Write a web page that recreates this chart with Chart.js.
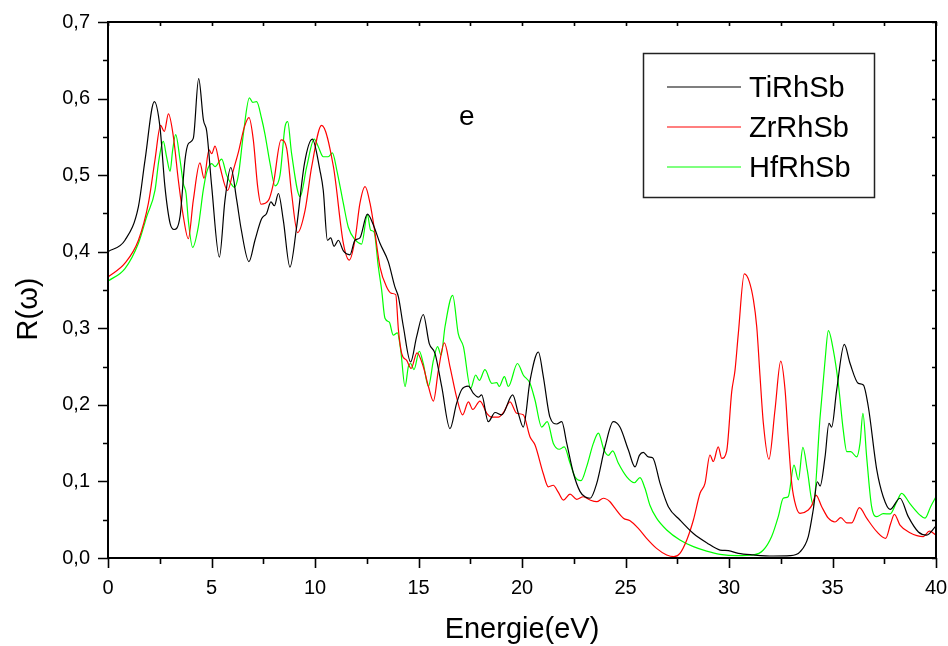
<!DOCTYPE html>
<html>
<head>
<meta charset="utf-8">
<title>R(ω) - TiRhSb / ZrRhSb / HfRhSb</title>
<script src="https://cdn.jsdelivr.net/npm/chart.js@4.4.1/dist/chart.umd.min.js"></script>
<style>
    html, body { margin: 0; padding: 0; background: #fff; }
    canvas { display: block; }
</style>
</head>
<body>
<canvas id="reflectivityChart" width="948" height="646"></canvas>
<script>
// Tick labels
const xTickValues = [0, 5, 10, 15, 20, 25, 30, 35, 40];
const yTickValues = [0, 0.1, 0.2, 0.3, 0.4, 0.5, 0.6, 0.7];

// Series names
const seriesNames = ['TiRhSb', 'ZrRhSb', 'HfRhSb'];

// TiRhSb
const energyTi = [0, 0.82, 1.47, 1.79, 2.24, 2.51, 2.75, 3.0, 3.19, 3.48, 3.72, 3.88, 4.12, 4.38, 4.61, 4.77, 5.01, 5.38, 5.65, 5.93,
    6.22, 6.43, 6.81, 7.1, 7.42, 7.66, 7.87, 8.04, 8.23, 8.47, 8.79, 9.11, 9.49, 9.87, 10.24, 10.4, 10.6, 10.76, 10.92, 11.13,
    11.37, 11.69, 11.93, 12.17, 12.53, 12.82, 13.14, 13.54, 13.86, 14.03, 14.27, 14.62, 14.91, 15.23, 15.52, 15.8, 16.12, 16.52, 16.84, 17.09,
    17.41, 17.65, 17.89, 18.05, 18.37, 18.7, 19.02, 19.55, 19.82, 20.06, 20.39, 20.79, 21.03, 21.35, 21.68, 21.92, 22.16, 22.48, 22.8, 23.04,
    23.29, 23.61, 24.01, 24.41, 24.73, 25.14, 25.46, 25.67, 25.86, 26.1, 26.31, 26.67, 27.07, 27.63, 28.28, 28.92, 29.57, 29.97, 30.45, 31.18,
    32.14, 32.95, 33.43, 33.83, 34.07, 34.27, 34.4, 34.64, 34.83, 34.96, 35.2, 35.57, 35.85, 36.25, 36.49, 36.73, 37.14, 37.45, 37.78, 38.26,
    38.66, 39.15, 39.55, 40];
const reflTi = [0.400, 0.415, 0.459, 0.520, 0.596, 0.563, 0.485, 0.437, 0.429, 0.446, 0.520, 0.541, 0.548, 0.626, 0.572, 0.557, 0.485, 0.393, 0.467, 0.510,
    0.467, 0.430, 0.387, 0.415, 0.443, 0.450, 0.465, 0.460, 0.476, 0.441, 0.380, 0.432, 0.515, 0.547, 0.506, 0.480, 0.415, 0.418, 0.407, 0.415,
    0.401, 0.396, 0.415, 0.418, 0.449, 0.435, 0.411, 0.387, 0.354, 0.341, 0.302, 0.256, 0.289, 0.318, 0.280, 0.267, 0.224, 0.169, 0.202, 0.220,
    0.2245, 0.215, 0.210, 0.213, 0.178, 0.190, 0.187, 0.213, 0.189, 0.171, 0.232, 0.269, 0.237, 0.184, 0.175, 0.178, 0.150, 0.111, 0.087, 0.080,
    0.078, 0.0975, 0.145, 0.178, 0.171, 0.141, 0.119, 0.134, 0.138, 0.132, 0.131, 0.0975, 0.067, 0.0496, 0.032, 0.020, 0.0104, 0.0096, 0.006, 0.004,
    0.0026, 0.003, 0.008, 0.028, 0.063, 0.0996, 0.094, 0.132, 0.176, 0.171, 0.219, 0.279, 0.254, 0.228, 0.226, 0.1975, 0.115, 0.080, 0.0635, 0.078,
    0.054, 0.034, 0.030, 0.042];

// ZrRhSb
const energyZr = [0, 0.82, 1.47, 1.95, 2.27, 2.54, 2.72, 2.92, 3.16, 3.4, 3.64, 3.88, 4.12, 4.44, 4.64, 4.88, 5.01, 5.17, 5.41, 5.78,
    6.05, 6.3, 6.59, 6.81, 7.02, 7.23, 7.39, 7.75, 7.99, 8.36, 8.63, 8.87, 9.16, 9.52, 9.84, 10.32, 10.89, 11.37, 11.66, 11.93,
    12.17, 12.42, 12.66, 12.9, 13.14, 13.46, 13.71, 13.9, 14.03, 14.19, 14.43, 14.64, 14.93, 15.23, 15.48, 15.72, 15.96, 16.25, 16.52, 16.84,
    17.13, 17.41, 17.62, 17.97, 18.3, 18.54, 18.86, 19.1, 19.42, 19.74, 20.06, 20.39, 20.63, 21.03, 21.27, 21.51, 21.75, 22.0, 22.32, 22.64,
    22.96, 23.29, 23.61, 23.93, 24.25, 24.49, 24.9, 25.22, 25.62, 26.02, 26.5, 26.99, 27.34, 27.63, 27.96, 28.28, 28.6, 28.84, 29.08, 29.24,
    29.48, 29.65, 29.89, 30.13, 30.29, 30.45, 30.74, 30.98, 31.18, 31.34, 31.5, 31.66, 31.93, 32.22, 32.5, 32.71, 32.86, 33.03, 33.24, 33.43,
    33.83, 34.0, 34.2, 34.48, 34.8, 35.12, 35.4, 35.69, 35.93, 36.3, 36.65, 37.14, 37.57, 37.81, 37.99, 38.26, 38.74, 39.39, 39.68, 40];
const reflZr = [0.367, 0.385, 0.415, 0.463, 0.520, 0.565, 0.557, 0.580, 0.550, 0.493, 0.446, 0.417, 0.467, 0.516, 0.496, 0.533, 0.528, 0.538, 0.511, 0.480,
    0.506, 0.530, 0.563, 0.575, 0.546, 0.485, 0.462, 0.467, 0.489, 0.546, 0.535, 0.476, 0.425, 0.454, 0.511, 0.565, 0.511, 0.411, 0.389, 0.415,
    0.463, 0.485, 0.463, 0.424, 0.380, 0.354, 0.3455, 0.344, 0.298, 0.267, 0.258, 0.2475, 0.268, 0.250, 0.224, 0.205, 0.245, 0.281, 0.250, 0.210,
    0.187, 0.204, 0.194, 0.205, 0.189, 0.184, 0.184, 0.190, 0.204, 0.189, 0.187, 0.158, 0.1475, 0.110, 0.093, 0.095, 0.086, 0.0757, 0.0835, 0.0766,
    0.080, 0.0757, 0.0735, 0.078, 0.0735, 0.065, 0.052, 0.0487, 0.0387, 0.0257, 0.0126, 0.004, 0.0017, 0.006, 0.0235, 0.0496, 0.0845, 0.0975, 0.1345, 0.126,
    0.145, 0.130, 0.140, 0.217, 0.245, 0.293, 0.371, 0.361, 0.337, 0.302, 0.237, 0.176, 0.129, 0.193, 0.257, 0.219, 0.158, 0.0975, 0.067, 0.0583,
    0.0627, 0.0687, 0.0822, 0.067, 0.052, 0.047, 0.0526, 0.046, 0.046, 0.0657, 0.052, 0.0344, 0.0257, 0.045, 0.057, 0.043, 0.033, 0.028, 0.035, 0.030];

// HfRhSb
const energyHf = [0, 0.82, 1.47, 1.87, 2.27, 2.46, 2.67, 2.83, 3.0, 3.12, 3.27, 3.48, 3.64, 3.77, 3.88, 4.09, 4.36, 4.6, 4.77, 5.01,
    5.17, 5.49, 5.73, 5.94, 6.1, 6.3, 6.54, 6.83, 6.99, 7.18, 7.42, 7.58, 7.83, 8.07, 8.31, 8.55, 8.68, 8.87, 9.28, 9.6,
    9.96, 10.16, 10.4, 10.64, 10.84, 11.05, 11.37, 11.61, 11.93, 12.25, 12.53, 12.69, 12.85, 13.06, 13.22, 13.38, 13.59, 13.78, 13.98, 14.14,
    14.35, 14.51, 14.62, 14.78, 15.04, 15.23, 15.48, 15.72, 15.92, 16.09, 16.28, 16.65, 16.92, 17.17, 17.52, 17.76, 17.94, 18.21, 18.54, 18.78,
    18.9, 19.15, 19.34, 19.78, 20.06, 20.39, 20.63, 20.95, 21.22, 21.51, 21.8, 22.04, 22.32, 22.56, 22.85, 23.12, 23.45, 23.69, 23.96, 24.17,
    24.38, 24.65, 25.06, 25.43, 25.7, 25.94, 26.18, 26.5, 26.99, 27.63, 28.28, 28.92, 29.57, 30.37, 31.18, 31.66, 32.06, 32.38, 32.62, 32.86,
    33.14, 33.35, 33.57, 33.78, 34.07, 34.4, 34.64, 34.8, 35.04, 35.28, 35.52, 35.69, 35.88, 36.17, 36.33, 36.47, 36.65, 36.89, 37.14, 37.45,
    37.78, 38.07, 38.34, 38.74, 39.23, 39.47, 39.74, 40];
const reflHf = [0.3616, 0.378, 0.411, 0.446, 0.480, 0.520, 0.544, 0.524, 0.505, 0.532, 0.553, 0.520, 0.489, 0.476, 0.441, 0.4056, 0.432, 0.480, 0.504, 0.515,
    0.511, 0.521, 0.500, 0.489, 0.484, 0.500, 0.554, 0.601, 0.595, 0.596, 0.574, 0.554, 0.515, 0.486, 0.500, 0.563, 0.570, 0.528, 0.472, 0.511,
    0.547, 0.537, 0.524, 0.524, 0.529, 0.507, 0.463, 0.432, 0.416, 0.410, 0.448, 0.428, 0.426, 0.380, 0.350, 0.313, 0.308, 0.291, 0.294, 0.2715,
    0.224, 0.250, 0.254, 0.246, 0.270, 0.254, 0.224, 0.258, 0.276, 0.265, 0.302, 0.343, 0.293, 0.276, 0.2215, 0.239, 0.232, 0.246, 0.228, 0.229,
    0.224, 0.237, 0.224, 0.254, 0.239, 0.228, 0.206, 0.171, 0.178, 0.150, 0.142, 0.145, 0.124, 0.106, 0.101, 0.119, 0.150, 0.163, 0.141, 0.134,
    0.140, 0.124, 0.106, 0.0983, 0.105, 0.091, 0.069, 0.052, 0.0366, 0.0235, 0.0148, 0.009, 0.0048, 0.003, 0.004, 0.0104, 0.028, 0.054, 0.078, 0.080,
    0.1214, 0.102, 0.1445, 0.115, 0.069, 0.184, 0.258, 0.297, 0.2715, 0.228, 0.167, 0.139, 0.139, 0.132, 0.150, 0.189, 0.132, 0.067, 0.054, 0.058,
    0.0575, 0.0714, 0.0845, 0.071, 0.056, 0.052, 0.067, 0.080];

const FONT = '"Liberation Sans", Arial, Helvetica, sans-serif';

function toPoints(xs, ys) {
    return xs.map((x, i) => ({ x: x, y: ys[i] }));
}

function makeDataset(label, xs, ys, color) {
    return {
        label: label,
        data: toPoints(xs, ys),
        borderColor: color,
        backgroundColor: color,
        borderWidth: 1.2,
        pointRadius: 0,
        showLine: true,
        fill: false,
        cubicInterpolationMode: 'monotone'
    };
}

/**
 * Frame box with Origin style ticks, axis titles, legend and panel letter
 */
const originStyle = {
    id: 'originStyle',
    afterDraw(chart) {
        const { ctx, chartArea: a, scales: { x, y } } = chart;
        ctx.save();

        // frame
        ctx.strokeStyle = '#000';
        ctx.lineWidth = 2;
        ctx.strokeRect(a.left, a.top, a.right - a.left, a.bottom - a.top);

        // x ticks (major + minor halfway)
        ctx.lineWidth = 1.6;
        ctx.beginPath();
        xTickValues.forEach((v, i) => {
            const px = Math.round(x.getPixelForValue(v)) + 0.5;
            ctx.moveTo(px, a.bottom); ctx.lineTo(px, a.bottom + 10);
            ctx.moveTo(px, a.top); ctx.lineTo(px, a.top + 4);
            if (i < xTickValues.length - 1) {
                const mid = (v + xTickValues[i + 1]) / 2;
                const pm = Math.round(x.getPixelForValue(mid)) + 0.5;
                ctx.moveTo(pm, a.bottom); ctx.lineTo(pm, a.bottom + 6);
                ctx.moveTo(pm, a.top); ctx.lineTo(pm, a.top + 4);
            }
        });
        // y ticks
        yTickValues.forEach((v, i) => {
            const py = Math.round(y.getPixelForValue(v)) + 0.5;
            ctx.moveTo(a.left, py); ctx.lineTo(a.left - 10, py);
            ctx.moveTo(a.right, py); ctx.lineTo(a.right - 4, py);
            if (i < yTickValues.length - 1) {
                const mid = (v + yTickValues[i + 1]) / 2;
                const pm = Math.round(y.getPixelForValue(mid)) + 0.5;
                ctx.moveTo(a.left, pm); ctx.lineTo(a.left - 5, pm);
                ctx.moveTo(a.right, pm); ctx.lineTo(a.right - 4, pm);
            }
        });
        ctx.stroke();

        // axis titles
        ctx.fillStyle = '#000';
        ctx.font = '29px ' + FONT;
        ctx.textAlign = 'center';
        ctx.textBaseline = 'alphabetic';
        ctx.fillText('Energie(eV)', (a.left + a.right) / 2, 638);

        ctx.save();
        ctx.translate(37, 309);
        ctx.rotate(-Math.PI / 2);
        ctx.fillText('R(ω)', 0, 0);
        ctx.restore();

        // panel letter
        ctx.textAlign = 'left';
        ctx.font = '28px ' + FONT;
        ctx.fillText('e', 459, 125);

        // legend
        const colors = chart.data.datasets.map(d => d.borderColor);
        ctx.lineWidth = 1.5;
        ctx.strokeStyle = '#222';
        ctx.strokeRect(643.5, 53.5, 231, 144);
        ctx.font = '29px ' + FONT;
        seriesNames.forEach((name, i) => {
            const base = 97 + i * 40;
            ctx.strokeStyle = colors[i];
            ctx.lineWidth = 1.2;
            ctx.beginPath();
            ctx.moveTo(667, base - 10);
            ctx.lineTo(741, base - 10);
            ctx.stroke();
            ctx.fillStyle = '#000';
            ctx.fillText(name, 749, base);
        });

        ctx.restore();
    }
};

const chart = new Chart(document.getElementById('reflectivityChart'), {
    type: 'scatter',
    data: {
        datasets: [
            makeDataset(seriesNames[0], energyTi, reflTi, '#000000'),
            makeDataset(seriesNames[1], energyZr, reflZr, '#ff0000'),
            makeDataset(seriesNames[2], energyHf, reflHf, '#00ff00')
        ]
    },
    options: {
        responsive: false,
        animation: false,
        layout: { padding: { top: 22, right: 12, left: 0, bottom: 0 } },
        plugins: {
            legend: { display: false },
            tooltip: { enabled: false }
        },
        scales: {
            x: {
                type: 'linear',
                min: 0,
                max: 40,
                grid: { display: false },
                border: { display: false },
                afterBuildTicks: s => { s.ticks = xTickValues.map(v => ({ value: v })); },
                afterFit: s => { s.height = 88; s.paddingLeft = 0; s.paddingRight = 0; },
                ticks: {
                    color: '#000',
                    font: { family: FONT, size: 20 },
                    padding: 10,
                    maxRotation: 0,
                    autoSkip: false
                }
            },
            y: {
                type: 'linear',
                min: 0,
                max: 0.7,
                grid: { display: false },
                border: { display: false },
                afterBuildTicks: s => { s.ticks = yTickValues.map(v => ({ value: v })); },
                afterFit: s => { s.width = 108; s.paddingTop = 0; s.paddingBottom = 0; },
                ticks: {
                    color: '#000',
                    font: { family: FONT, size: 20 },
                    padding: 10,
                    autoSkip: false,
                    callback: v => Number(v).toFixed(1).replace('.', ',')
                }
            }
        }
    },
    plugins: [originStyle]
});
</script>
</body>
</html>
